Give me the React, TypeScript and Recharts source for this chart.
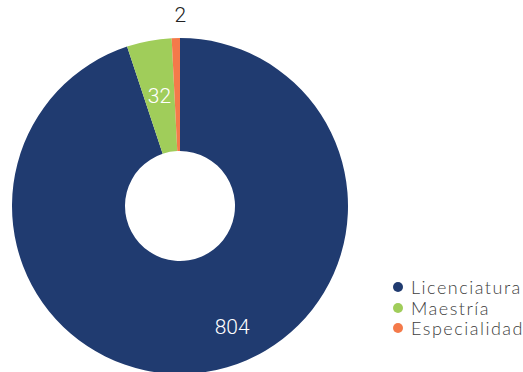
import React from 'react';
import { PieChart, Pie, Cell, Legend } from 'recharts';

const categories = ['Licenciatura', 'Maestría', 'Especialidad'];
const counts = [804, 32, 2];
const colors = ['#203B70', '#A0CD5A', '#F47A4A'];

const data = categories.map((name, i) => ({ name, value: counts[i] }));

const RAD = Math.PI / 180;

const renderLabel = (props: any) => {
  const { cx, cy, midAngle, innerRadius, outerRadius, index, value } = props;
  let angle = midAngle;
  let r = innerRadius + (outerRadius - innerRadius) * 0.5;
  let fill = '#ffffff';
  if (index === 0) {
    angle = midAngle + 14.1;
    r = innerRadius + (outerRadius - innerRadius) * 0.68;
  } else if (index === 2) {
    angle = midAngle - 1.5;
    r = outerRadius + 23;
    fill = '#222222';
  }
  const x = cx + r * Math.cos(-angle * RAD);
  const y = cy + r * Math.sin(-angle * RAD);
  return (
    <text
      x={x}
      y={y}
      fill={fill}
      textAnchor="middle"
      dominantBaseline="central"
      fontSize={21}
      fontWeight={300}
      fontFamily="Roboto, sans-serif"
    >
      {value}
    </text>
  );
};

const LegendContent = () => (
  <div
    style={{
      fontFamily: 'Lato, sans-serif',
      fontSize: 18,
      lineHeight: '20.5px',
      letterSpacing: 1.5,
      color: '#404040',
      fontWeight: 300,
    }}
  >
    {categories.map((name, i) => (
      <div key={name} style={{ display: 'flex', alignItems: 'center', height: 20.5 }}>
        <span
          style={{
            display: 'inline-block',
            width: 10,
            height: 10,
            borderRadius: '50%',
            background: colors[i],
            marginRight: 8,
            flexShrink: 0,
          }}
        />
        <span style={{ whiteSpace: 'nowrap' }}>{name}</span>
      </div>
    ))}
  </div>
);

export default function App() {
  return (
    <div style={{ position: 'absolute', left: 0, top: 0, background: '#fff' }}>
      <PieChart width={523} height={372} margin={{ top: 0, right: 0, bottom: 0, left: 0 }}>
        <Pie
          data={data}
          dataKey="value"
          nameKey="name"
          cx={180}
          cy={206}
          innerRadius={55}
          outerRadius={168}
          startAngle={90}
          endAngle={-270}
          minAngle={2}
          stroke="none"
          label={renderLabel}
          labelLine={false}
          isAnimationActive={false}
        >
          {data.map((d, i) => (
            <Cell key={d.name} fill={colors[i]} />
          ))}
        </Pie>
        <Legend
          content={<LegendContent />}
          layout="vertical"
          wrapperStyle={{ left: 393, top: 277, width: 130 }}
        />
      </PieChart>
    </div>
  );
}
